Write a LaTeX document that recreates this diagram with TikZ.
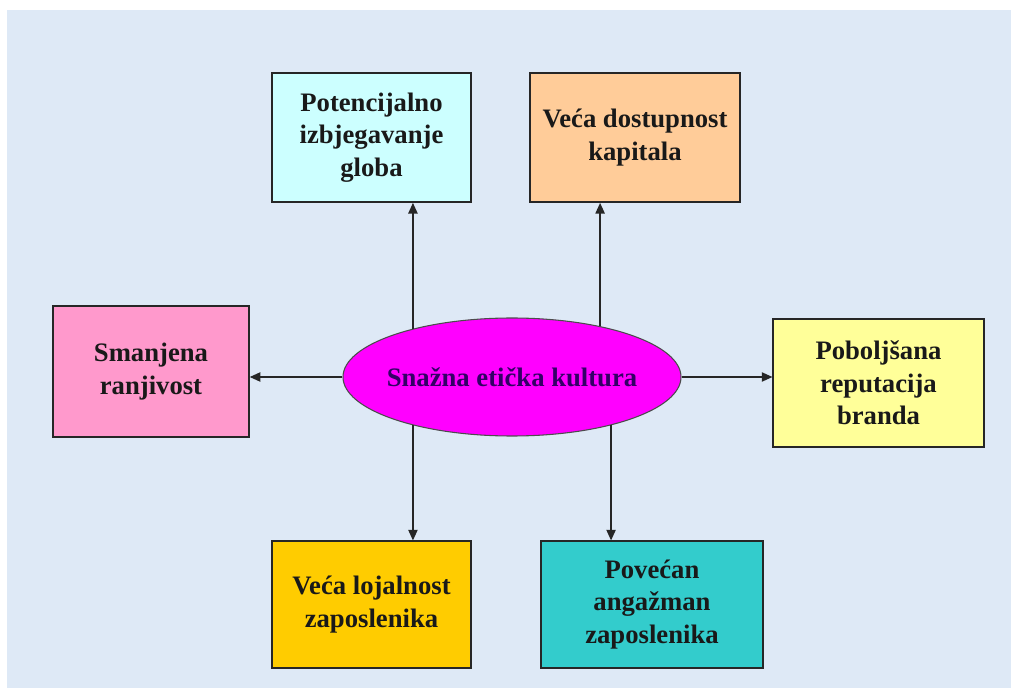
\documentclass[tikz,border=0pt]{standalone}
\usepackage{fontspec}
\setmainfont{Liberation Serif}
\usetikzlibrary{shapes.geometric,arrows.meta}

\definecolor{bgblue}{RGB}{222,233,246}
\definecolor{potcol}{RGB}{204,255,255}
\definecolor{kapcol}{RGB}{255,204,153}
\definecolor{ranjcol}{RGB}{255,153,204}
\definecolor{brandcol}{RGB}{255,255,153}
\definecolor{lojcol}{RGB}{255,204,0}
\definecolor{angcol}{RGB}{51,204,204}
\definecolor{ellcol}{RGB}{255,0,255}
\definecolor{elltext}{RGB}{51,0,102}

\begin{document}
\begin{tikzpicture}[x=0.75pt,y=0.75pt,
    box/.style={draw=black!85,line width=1.1pt,fill=#1,align=center,inner sep=2pt,
      font=\bfseries\fontsize{20}{24.5}\selectfont,text=black!90},
    arr/.style={-{Triangle[length=8pt,width=7pt]},line width=1pt,draw=black!85}]
  \useasboundingbox (0,0) rectangle (1011,690);
  \fill[bgblue] (7,2) rectangle (1011,680);

  % outer boxes
  \node[box=potcol,minimum width=149pt,minimum height=97pt] (glob) at (371.5,552.5) {Potencijalno\\izbjegavanje\\globa};
  \node[box=kapcol,minimum width=157.5pt,minimum height=97pt] (kap) at (635,552.5) {Veća dostupnost\\kapitala};
  \node[box=ranjcol,minimum width=147pt,minimum height=98pt] (ranj) at (151,318.5) {Smanjena\\ranjivost};
  \node[box=brandcol,minimum width=158pt,minimum height=96pt] (brand) at (878.5,307) {Poboljšana\\reputacija\\branda};
  \node[box=lojcol,minimum width=149pt,minimum height=95pt] (loj) at (371.5,85.5) {Veća lojalnost\\zaposlenika};
  \node[box=angcol,minimum width=166.5pt,minimum height=95pt] (ang) at (652,85.5) {Povećan\\angažman\\zaposlenika};

  % centre
  \node[ellipse,draw=black!70,line width=0.8pt,fill=ellcol,inner sep=0pt,
    minimum width=253.5pt,minimum height=88.5pt,
    label={[font=\bfseries\fontsize{20}{24}\selectfont,text=elltext]center:Snažna etička kultura}] (ell) at (512,313) {};

  \draw[arr] (ell.154) -- (ell.154 |- glob.south);
  \draw[arr] (ell.30) -- (ell.30 |- kap.south);
  \draw[arr] (ell.206) -- (ell.206 |- loj.north);
  \draw[arr] (ell.334) -- (ell.334 |- ang.north);
  \draw[arr] (ell.west) -- (ell.west -| ranj.east);
  \draw[arr] (ell.east) -- (ell.east -| brand.west);
\end{tikzpicture}
\end{document}
